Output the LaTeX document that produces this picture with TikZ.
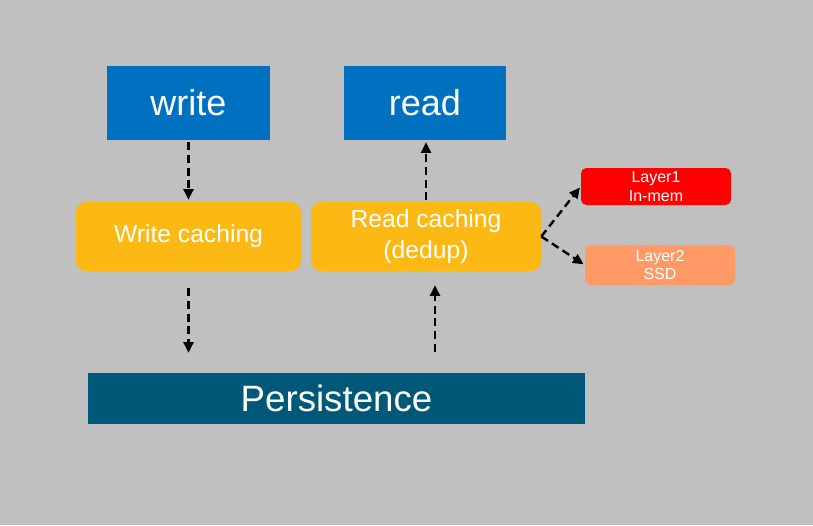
\documentclass[tikz,border=0pt]{standalone}
\usepackage{fontspec}
\setmainfont{Liberation Sans}
\usepackage{tikz}
\usetikzlibrary{arrows.meta,calc,positioning}

\definecolor{bggrey}{HTML}{C0C0C0}
\definecolor{opblue}{HTML}{0070C0}
\definecolor{cacheyellow}{HTML}{FDB913}
\definecolor{persblue}{HTML}{005878}
\definecolor{layerred}{HTML}{FF0000}
\definecolor{layersalmon}{HTML}{FF9966}

\begin{document}
\begin{tikzpicture}[
  x=0.75pt, y=-0.75pt,
  op/.style={rectangle, fill=opblue, text=white, minimum width=122pt, minimum height=55.5pt, font=\fontsize{27}{32}\selectfont, inner sep=0pt},
  cache/.style={rectangle, rounded corners=7.5pt, fill=cacheyellow, text=white, minimum height=51.75pt, align=center, font=\fontsize{18.5}{23}\selectfont, inner sep=0pt},
  layer/.style={rectangle, rounded corners=4pt, text=white, minimum width=112.5pt, align=center, font=\fontsize{12}{14}\selectfont, inner sep=0pt},
  flow/.style={line width=1.8pt, dash pattern=on 6pt off 3.5pt, -{Triangle[length=8pt,width=7.5pt]}}
]
  \fill[bggrey] (0,0) rectangle (813,525);
  \useasboundingbox (0,0) rectangle (813,525);

  \node[op] (write) at (188.5, 103) {write};
  \node[op] (read)  at (425, 103)   {read};
  \node[cache, minimum width=168.75pt] (wcache) at (188.5, 236.5) {Write caching};
  \node[cache, minimum width=172.5pt]  (rcache) at (426, 236.5)   {Read caching\\(dedup)};
  \node[layer, fill=layerred, minimum height=27.75pt]  (layer1) at (656, 186.5) {Layer1\\In-mem};
  \node[layer, fill=layersalmon, minimum height=30pt] (layer2) at (660, 265)   {Layer2\\SSD};
  \node[rectangle, fill=persblue, text=white, minimum width=372.75pt, minimum height=38.25pt, inner sep=0pt, font=\fontsize{27.5}{32}\selectfont] (pers) at (336.5, 398.5) {Persistence};

  \draw[flow, shorten <=1.5pt, shorten >=1.5pt] (write.south) -- (wcache.north);
  \draw[flow, shorten <=1pt, shorten >=1.5pt] (rcache.north) -- (rcache.north |- read.south);
  \draw[flow, shorten <=12.75pt, shorten >=15pt] (wcache.south) -- (wcache.south |- pers.north);
  \coordinate (up) at ($(pers.north)+(98.5,0)$);
  \draw[flow, shorten <=15.75pt, shorten >=10.5pt] (up) -- (up |- rcache.south);
  \draw[flow, shorten >=1pt] (rcache.east) -- (layer1.west);
  \draw[flow, shorten >=1pt] (rcache.east) -- (layer2.west);
\end{tikzpicture}
\end{document}
